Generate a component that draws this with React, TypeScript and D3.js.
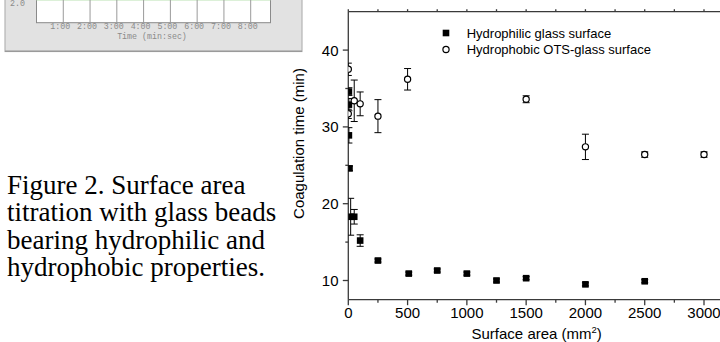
import React from "react";
import * as d3 from "d3";

const hydrophilicX = [5, 5, 5, 10, 20, 50, 100, 250, 510, 750, 1000, 1250, 1500, 2000, 2500];
const hydrophilicY = [34.6, 32.9, 28.9, 24.6, 18.3, 18.3, 15.2, 12.6, 10.9, 11.3, 10.9, 10.0, 10.3, 9.5, 9.9];
const hydrophilicErr = [0.5, 0.8, 1.0, 0.3, 2.4, 0.95, 0.75, 0.2, 0.2, 0.2, 0.2, 0.2, 0.2, 0.2, 0.2];

const hydrophobicX = [0, 0, 50, 100, 250, 500, 1500, 2000, 2500, 3000];
const hydrophobicY = [37.5, 31.7, 33.4, 33.0, 31.4, 36.2, 33.6, 27.4, 26.4, 26.4];
const hydrophobicErr = [0.8, 0.6, 2.7, 1.55, 2.15, 1.4, 0.45, 1.65, 0.35, 0.35];

const xMajorTicks = [0, 500, 1000, 1500, 2000, 2500, 3000];
const xMinorTicks = [250, 750, 1250, 1750, 2250, 2750, 3250];
const yMajorTicks = [10, 20, 30, 40];
const yMinorTicks = [15, 25, 35];

const legendLabels = ["Hydrophilic glass surface", "Hydrophobic OTS-glass surface"];
const captionLines = [
  "Figure 2. Surface area",
  "titration with glass beads",
  "bearing hydrophilic and",
  "hydrophobic properties.",
];
const insetTickLabels = ["1:00", "2:00", "3:00", "4:00", "5:00", "6:00", "7:00", "8:00"];
const insetTickValues = [1, 2, 3, 4, 5, 6, 7, 8];

export default function App() {
  const W = 720;
  const H = 342;
  const left = 348.3;
  const top = 11.7;
  const bottom = 299.7;
  const x = d3.scaleLinear().domain([0, 3000]).range([left, 704]);
  const y = d3.scaleLinear().domain([7.5, 45]).range([bottom, top]);
  const right = x(3200);
  const axisColor = "#3a3a3a";
  const sans = "'Liberation Sans', Arial, sans-serif";

  const ix = d3.scaleLinear().domain([0, 8]).range([36.5, 250.7]);

  const hydrophilic = hydrophilicX.map((v, i) => ({ x: v, y: hydrophilicY[i], e: hydrophilicErr[i] }));
  const hydrophobic = hydrophobicX.map((v, i) => ({ x: v, y: hydrophobicY[i], e: hydrophobicErr[i] }));

  const errBar = (d: { x: number; y: number; e: number }, key: string) => {
    const cx = x(d.x);
    const y1 = y(d.y + d.e);
    const y2 = y(d.y - d.e);
    return (
      <g key={key} stroke="#000" strokeWidth={1}>
        <line x1={cx} x2={cx} y1={y1} y2={y2} />
        <line x1={cx - 3.5} x2={cx + 3.5} y1={y1} y2={y1} />
        <line x1={cx - 3.5} x2={cx + 3.5} y1={y2} y2={y2} />
      </g>
    );
  };

  return (
    <svg
      width={W}
      height={H}
      style={{ position: "absolute", left: 0, top: 0, background: "#fff" }}
    >
      <defs>
        <clipPath id="plotClip">
          <rect x={left} y={top} width={right - left} height={bottom - top} />
        </clipPath>
      </defs>

      {/* inset screenshot fragment */}
      <g>
        <rect x={5} y={-10} width={297} height={61.5} fill="#e2e2e2" stroke="#b5b5b5" strokeWidth={1.2} />
        <line x1={5} x2={302} y1={51.2} y2={51.2} stroke="#9a9a9a" strokeWidth={1.5} />
        <rect x={36.5} y={-10} width={234} height={32.7} fill="#fff" stroke="#8a8a8a" strokeWidth={1} />
        <rect x={36.5} y={-2} width={234} height={2.5} fill="#b9e0b0" />
        {insetTickValues.map((v) => (
          <line key={"ig" + v} x1={ix(v)} x2={ix(v)} y1={-10} y2={22.7} stroke="#9a9a9a" strokeWidth={1} />
        ))}
        {insetTickValues.map((v, i) => (
          <text
            key={"it" + v}
            x={ix(v) - 3}
            y={29}
            fontFamily="'Liberation Mono', monospace"
            fontSize={8.3}
            fill="#8a8a8a"
            textAnchor="middle"
          >
            {insetTickLabels[i]}
          </text>
        ))}
        <text
          x={152}
          y={39}
          fontFamily="'Liberation Mono', monospace"
          fontSize={8.3}
          fill="#8a8a8a"
          textAnchor="middle"
        >
          Time (min:sec)
        </text>
        <text x={10} y={6} fontFamily="'Liberation Mono', monospace" fontSize={8.3} fill="#8a8a8a">
          2.0
        </text>
      </g>

      {/* caption */}
      <g fontFamily="'Liberation Serif', 'Times New Roman', serif" fontSize={27} fill="#000">
        {captionLines.map((t, i) => (
          <text key={"c" + i} x={7} y={194 + i * 27.3}>
            {t}
          </text>
        ))}
      </g>

      {/* axes lines */}
      <g stroke={axisColor} strokeWidth={1.3}>
        <line x1={left} x2={left} y1={top} y2={bottom} />
        <line x1={left} x2={right} y1={bottom} y2={bottom} />
        <line x1={left} x2={right} y1={top} y2={top} />
        {xMajorTicks.map((v) => (
          <line key={"xM" + v} x1={x(v)} x2={x(v)} y1={bottom} y2={bottom + 5.5} />
        ))}
        {xMinorTicks.map((v) => (
          <line key={"xm" + v} x1={x(v)} x2={x(v)} y1={bottom} y2={bottom + 3} />
        ))}
        {[...xMajorTicks, ...xMinorTicks].map((v) => (
          <line key={"xt" + v} x1={x(v)} x2={x(v)} y1={top} y2={top - 2.5} />
        ))}
        {yMajorTicks.map((v) => (
          <line key={"yM" + v} x1={left} x2={left - 5.5} y1={y(v)} y2={y(v)} />
        ))}
        {yMinorTicks.map((v) => (
          <line key={"ym" + v} x1={left} x2={left - 3} y1={y(v)} y2={y(v)} />
        ))}
      </g>

      {/* tick labels */}
      <g fontFamily={sans} fontSize={15} fill="#000">
        {xMajorTicks.map((v) => (
          <text key={"xl" + v} x={x(v)} y={318} textAnchor="middle">
            {v}
          </text>
        ))}
        {yMajorTicks.map((v) => (
          <text key={"yl" + v} x={338.5} y={y(v)} dy="0.36em" textAnchor="end">
            {v}
          </text>
        ))}
        <text x={536.7} y={339} textAnchor="middle">
          Surface area (mm
          <tspan fontSize={9.5} dy={-6}>2</tspan>
          <tspan dy={6}>)</tspan>
        </text>
        <text transform="translate(303.5,143.5) rotate(-90)" textAnchor="middle">
          Coagulation time (min)
        </text>
      </g>

      {/* data */}
      <g clipPath="url(#plotClip)">
        {hydrophilic.map((d, i) => errBar(d, "ea" + i))}
        {hydrophobic.map((d, i) => errBar(d, "eb" + i))}
        {hydrophilic.map((d, i) => (
          <rect key={"sq" + i} x={x(d.x) - 3.3} y={y(d.y) - 3.3} width={6.6} height={6.6} fill="#000" />
        ))}
        {hydrophobic.map((d, i) => (
          <circle key={"ci" + i} cx={x(d.x)} cy={y(d.y)} r={3.1} fill="#fff" stroke="#000" strokeWidth={1.2} />
        ))}
      </g>

      {/* legend */}
      <g fontFamily={sans} fontSize={13} fill="#000">
        <rect x={446 - 3.3} y={33 - 3.3} width={6.6} height={6.6} fill="#000" />
        <circle cx={446} cy={49.5} r={3.1} fill="#fff" stroke="#000" strokeWidth={1.2} />
        <text x={466.7} y={33} dy="0.36em">
          {legendLabels[0]}
        </text>
        <text x={466.7} y={49.5} dy="0.36em">
          {legendLabels[1]}
        </text>
      </g>
    </svg>
  );
}
